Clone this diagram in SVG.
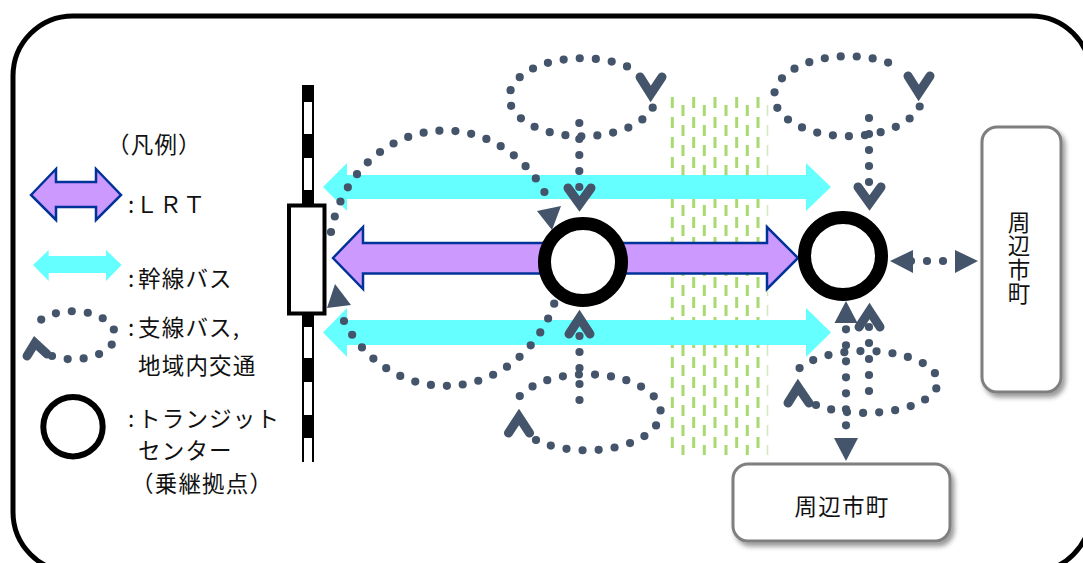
<svg xmlns="http://www.w3.org/2000/svg" width="1083" height="563" viewBox="0 0 1083 563">
<style>
text{font-family:"Noto Sans CJK JP","Liberation Sans",sans-serif;fill:#111;font-size:22.5px;letter-spacing:1.2px}
.dot{fill:none;stroke:#44546a;stroke-width:8.2;stroke-linecap:round;stroke-dasharray:0 16}
.chev{fill:none;stroke:#44546a;stroke-width:9;stroke-linecap:round;stroke-linejoin:miter}
.tri{fill:#44546a}
.cy{fill:#66ffff}
.lrt{fill:#cc99ff;stroke:#003399;stroke-width:2.5}
.ring{fill:#fff;stroke:#000}
.box{fill:#fff;stroke:#7f7f7f;stroke-width:3;filter:url(#sh)}
.g1{fill:none;stroke:#a8da70;stroke-width:3;stroke-dasharray:11 9}
</style>
<defs>
<filter id="sh" x="-20%" y="-20%" width="140%" height="140%"><feDropShadow dx="3" dy="4" stdDeviation="2.5" flood-color="#000" flood-opacity="0.4"/></filter>
</defs>
<rect id="frame" x="13" y="16" width="1078" height="556" rx="60" ry="60" fill="#fff" stroke="#000" stroke-width="5"/>

<g id="green-belt">
<path class="g1" d="M672.300 97V455M693.700 97V455M715 97V455M736.700 97V455M758 97V455"/>
<path class="g1" d="M683 105V455M704.300 105V455M726 105V455M747.300 105V455"/>
<path class="g1" d="M767.500 105V455" style="stroke:#d5e8c0;stroke-width:1.600"/>
</g>

<g id="railway">
<rect x="302" y="85" width="12" height="377" fill="#000"/>
<path fill="#fff" d="M304 102h8v32h-8zM304 158h8v32h-8zM304 327h8v31h-8zM304 382h8v33h-8zM304 438h8v24h-8z"/>
</g>
<g id="station"><rect x="289" y="205.500" width="35.500" height="108" fill="#fff" stroke="#000" stroke-width="4"/></g>

<g id="trunk-bus">
<path class="cy" d="M323 187L347 163V175H806V163L831 187L806 211V199H347V211Z"/>
<path class="cy" d="M323 332.500L347 308V320H806V308L831 332.500L806 357V345H347V357Z"/>
</g>

<g id="connectors">
<path class="dot" d="M331 232A116 126 0 0 1 546 195"/>
<path class="dot" d="M344 321A116 126 0 0 0 556 298"/>
<path class="tri" d="M537 211L561 206L552 230Z"/>
<path class="tri" d="M327 308L351 305L335 284Z"/>
<path class="dot" d="M652.700 107.700A73 39 0 1 1 632.700 69"/>
<polyline class="chev" points="640,77 650.700,94 662,77"/>
<path class="dot" d="M919.700 106.500A74 40 0 1 1 899.700 67.500"/>
<polyline class="chev" points="908,76 918.700,93 930,76"/>
<path class="dot" d="M579.300 123V190"/>
<polyline class="chev" points="568,188 579.500,204 591,188"/>
<path class="dot" d="M869 118V185"/>
<polyline class="chev" points="858,187 869.500,203 881,187"/>
<path class="dot" d="M536 440A74 38 0 1 0 516 401"/>
<polyline class="chev" points="508.500,433 519,417 529.500,433"/>
<path class="dot" d="M579.500 400V328"/>
<polyline class="chev" points="569,334 579.500,318 590,334"/>
<path class="dot" d="M816 405A73 31 0 1 0 795 373"/>
<polyline class="chev" points="788,403 798,387 809,403"/>
<path class="dot" d="M846 329.300V427"/>
<path class="tri" d="M846 301L857.500 323H834.500Z"/>
<path class="tri" d="M834 438H858L846 461Z"/>
<path class="dot" d="M869 327V392"/>
<polyline class="chev" points="859,327 869.500,311 880,327"/>
<path class="dot" d="M911 261H945"/>
<path class="tri" d="M890 261L913 250V273Z"/>
<path class="tri" d="M978 261L955 250V273Z"/>
</g>

<g id="lrt-line">
<path class="lrt" d="M333 258L363 227V243H767V227L798 258L767 289V273.500H363V289Z"/>
</g>
<g id="transit-center-1"><circle class="ring" cx="583" cy="262" r="38.500" stroke-width="13"/></g>
<g id="transit-center-2"><circle class="ring" cx="843" cy="256" r="38.500" stroke-width="13"/></g>

<g id="city-right">
<rect class="box" x="982" y="127" width="79" height="265" rx="15"/>
<text x="1019" y="211" writing-mode="vertical-rl">周辺市町</text>
</g>
<g id="city-bottom">
<rect class="box" x="733" y="464" width="217" height="77" rx="15"/>
<text x="842" y="515" text-anchor="middle">周辺市町</text>
</g>

<g id="legend">
<text x="107" y="153">（凡例）</text>
<path class="lrt" d="M31 195L56 169V182H96V169L121 195L96 220V207H56V220Z"/>
<text x="128" y="213">:ＬＲＴ</text>
<path class="cy" d="M33 265L48.700 250V256H106V250L121.700 265L106 281V273H48.700V281Z"/>
<text x="128" y="287">:</text><text x="138" y="287">幹線バス</text>
<path class="dot" d="M52 356A42 24 0 1 0 33 328"/>
<polyline class="chev" points="27,356 35,343 47,354"/>
<text x="128" y="336">:</text><text x="138" y="336">支線バス,</text>
<text x="138" y="374">地域内交通</text>
<circle class="ring" cx="73" cy="426.700" r="29.700" stroke-width="6"/>
<text x="128" y="427">:</text><text x="138" y="427">トランジット</text>
<text x="138" y="459">センター</text>
<text x="131" y="492">（乗継拠点）</text>
</g>
</svg>
